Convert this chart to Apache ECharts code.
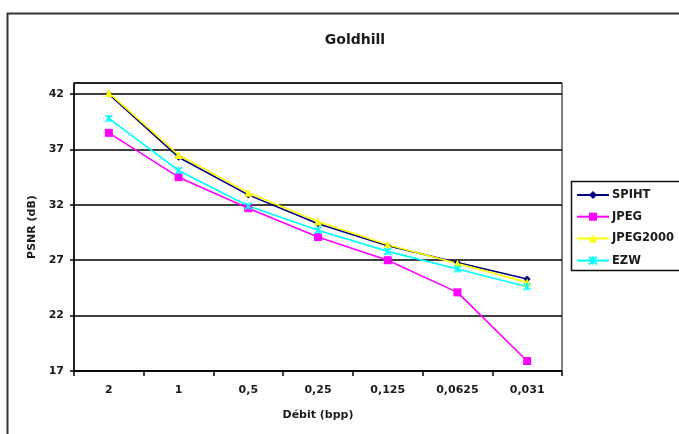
<!DOCTYPE html>
<html>
<head>
<meta charset="utf-8">
<script src="https://cdn.jsdelivr.net/npm/echarts@6/dist/echarts.min.js"></script>
<style>
  html, body { margin: 0; padding: 0; background: #fff; }
  #chart { width: 679px; height: 434px; }
</style>
</head>
<body>
<div id="chart"></div>
<script>
// Bit rates (bpp) along the x axis
const categories = ['2', '1', '0,5', '0,25', '0,125', '0,0625', '0,031'];

// PSNR (dB) per codec
const spiht    = [42.0, 36.3, 32.9, 30.3, 28.3, 26.8, 25.3];
const jpeg     = [38.5, 34.5, 31.7, 29.1, 27.0, 24.1, 17.9];
const jpeg2000 = [42.1, 36.5, 33.1, 30.5, 28.4, 26.7, 25.0];
const ezw      = [39.8, 35.1, 31.9, 29.7, 27.8, 26.2, 24.6];

const seriesNames = ['SPIHT', 'JPEG', 'JPEG2000', 'EZW'];

const FONT = 'DejaVu Sans';
const TEXT = '#1a1a1a';

// Excel-style star marker: an x crossed by a vertical bar
const starPath = 'path://M0,0L10,10M10,0L0,10M5,0L5,10';

function lineSeries(name, data, color, symbol, size, extra) {
  return Object.assign({
    name: name,
    type: 'line',
    data: data,
    symbol: symbol,
    symbolSize: size,
    showAllSymbol: true,
    lineStyle: { color: color, width: 1.6 },
    itemStyle: { color: color, borderColor: color, borderWidth: 0 },
    emphasis: { disabled: true },
    animation: false
  }, extra || {});
}

const chart = echarts.init(document.getElementById('chart'), null, { renderer: 'canvas' });

chart.setOption({
  backgroundColor: '#fff',
  animation: false,
  title: {
    text: 'Goldhill',
    left: 350,
    top: 28,
    textAlign: 'center',
    textStyle: { fontFamily: FONT, fontWeight: 'bold', fontSize: 14, color: TEXT }
  },
  graphic: [
    {
      // outer chart frame (runs past the right and bottom edges)
      type: 'rect',
      shape: { x: 7.5, y: 13.5, width: 720, height: 460 },
      style: { fill: null, stroke: '#333', lineWidth: 2 },
      silent: true,
      z: -1
    },
    {
      // legend box
      type: 'rect',
      shape: { x: 571.5, y: 181.5, width: 140, height: 89 },
      style: { fill: '#fff', stroke: '#111', lineWidth: 1.5 },
      silent: true,
      z: 1
    }
  ],
  legend: {
    orient: 'vertical',
    left: 576,
    top: 189,
    itemWidth: 32,
    itemHeight: 10,
    itemGap: 9.7,
    padding: 0,
    z: 10,
    data: seriesNames,
    textStyle: { fontFamily: FONT, fontWeight: 'bold', fontSize: 11.5, color: TEXT, lineHeight: 10, padding: [0, 0, 0, -2] }
  },
  grid: {
    left: 74,
    top: 83,
    width: 488,
    height: 288,
    show: true,
    borderColor: '#000',
    borderWidth: 1,
    backgroundColor: '#fff'
  },
  xAxis: {
    type: 'category',
    data: categories,
    boundaryGap: true,
    name: 'Débit (bpp)',
    nameLocation: 'middle',
    nameGap: 39,
    nameTextStyle: { fontFamily: FONT, fontWeight: 'bold', fontSize: 11, color: TEXT },
    axisLine: { lineStyle: { color: '#000', width: 1.5 } },
    axisTick: { show: true, length: 5, inside: false, lineStyle: { color: '#000', width: 1.5 } },
    axisLabel: { margin: 14, fontFamily: FONT, fontWeight: 'bold', fontSize: 11, color: TEXT },
    splitLine: { show: false }
  },
  yAxis: {
    type: 'value',
    min: 17,
    max: 43,
    interval: 5,
    name: 'PSNR (dB)',
    nameLocation: 'middle',
    nameGap: 34,
    nameRotate: 90,
    nameTextStyle: { fontFamily: FONT, fontWeight: 'bold', fontSize: 11, color: TEXT },
    axisLine: { show: true, lineStyle: { color: '#000', width: 1.5 } },
    axisTick: { show: true, length: 4, lineStyle: { color: '#000', width: 1.5 } },
    axisLabel: { margin: 10, showMaxLabel: false, fontFamily: FONT, fontWeight: 'bold', fontSize: 11, color: TEXT },
    splitLine: { show: true, lineStyle: { color: '#000', width: 1.5 } }
  },
  series: [
    lineSeries('SPIHT', spiht, '#000080', 'diamond', 7),
    lineSeries('JPEG', jpeg, '#ff00ff', 'rect', 8),
    lineSeries('JPEG2000', jpeg2000, '#ffff00', 'triangle', 8),
    lineSeries('EZW', ezw, '#00ffff', starPath, 7, {
      itemStyle: { color: 'none', borderColor: '#00ffff', borderWidth: 1.5 }
    })
  ]
});
</script>
</body>
</html>
